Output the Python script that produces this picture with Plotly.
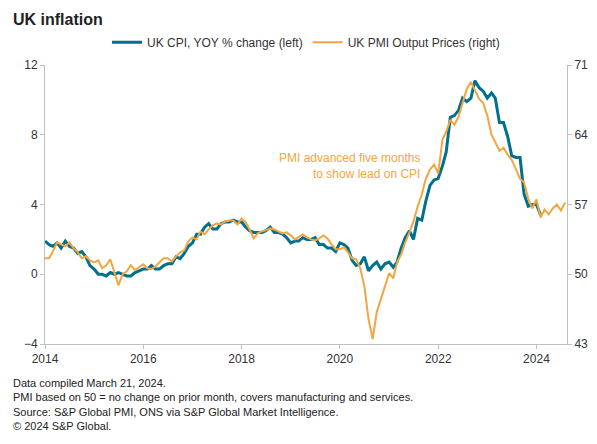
import plotly.graph_objects as go
import pandas as pd

cpi = [1.9,1.7,1.6,1.8,1.5,1.9,1.6,1.5,1.2,1.3,1.0,0.5,
       0.3,0.0,0.0,-0.1,0.1,0.0,0.1,0.0,-0.1,-0.1,0.1,0.2,
       0.3,0.3,0.5,0.3,0.3,0.5,0.6,0.6,1.0,0.9,1.2,1.6,
       1.8,2.3,2.3,2.7,2.9,2.6,2.6,2.9,3.0,3.0,3.1,3.0,
       3.0,2.7,2.5,2.4,2.4,2.4,2.5,2.7,2.4,2.4,2.3,2.1,
       1.8,1.9,1.9,2.1,2.0,2.0,2.1,1.7,1.7,1.5,1.5,1.3,
       1.8,1.7,1.5,0.8,0.5,0.6,1.0,0.2,0.5,0.7,0.3,0.6,
       0.7,0.4,0.7,1.5,2.1,2.5,2.0,3.2,3.1,4.2,5.1,5.4,
       5.5,6.2,7.0,9.0,9.1,9.4,10.1,9.9,10.1,11.1,10.7,10.5,
       10.1,10.4,10.1,8.7,8.7,7.9,6.8,6.7,6.7,4.6,3.9,4.0,
       4.0,3.4]
pmi = [51.6,51.6,52.3,53.2,53.0,52.8,53.2,52.6,52.2,51.6,51.8,51.4,
       51.2,51.4,50.6,50.9,51.5,50.2,48.9,50.0,50.3,50.9,50.4,50.7,
       51.0,50.6,50.5,50.8,51.2,51.6,51.6,51.3,51.8,52.2,52.4,53.3,
       53.7,53.5,54.3,54.0,54.5,54.9,55.1,55.0,55.3,55.4,55.4,55.0,
       55.6,55.2,54.5,53.6,54.1,54.3,54.4,54.6,54.5,54.3,54.1,54.2,
       53.9,53.5,53.7,54.0,53.7,53.5,53.4,53.6,53.9,53.6,53.0,52.5,
       52.5,52.7,52.2,51.6,51.5,50.6,48.8,45.5,43.5,46.2,47.5,48.8,50.1,49.6,
       51.2,52.0,53.2,54.2,55.3,56.8,58.0,59.6,60.5,61.0,60.1,63.5,
       64.3,65.5,65.0,65.8,67.1,68.6,69.3,68.4,67.6,67.2,65.9,64.0,
       63.2,62.4,62.7,62.0,61.5,60.5,59.6,59.2,57.6,56.6,57.5,55.7,
       56.5,56.0,56.6,57.0,56.4,57.2]
cpi_dates = pd.date_range("2014-01-01", periods=len(cpi), freq="MS")
pmi_dates = pd.date_range("2014-01-01", periods=len(pmi), freq="MS")
left_ticks = [-4, 0, 4, 8, 12]
right_ticks = [43, 50, 57, 64, 71]
year_ticks = [2014, 2016, 2018, 2020, 2022, 2024]

teal = "#00708c"
orange = "#f2a540"
fig = go.Figure()
fig.add_trace(go.Scatter(x=cpi_dates, y=cpi, name="UK CPI, YOY % change (left)",
                         line=dict(color=teal, width=3)))
fig.add_trace(go.Scatter(x=pmi_dates, y=pmi, name="UK PMI Output Prices (right)", yaxis="y2",
                         line=dict(color=orange, width=2)))
ax = dict(showgrid=False, zeroline=False, showline=True, linecolor="#bfbfbf",
          ticks="outside", tickcolor="#bfbfbf", ticklen=4,
          tickfont=dict(size=12, color="#333"))
fig.update_layout(
    width=597, height=444, margin=dict(l=37, r=38, t=57, b=108),
    paper_bgcolor="white", plot_bgcolor="white",
    font=dict(family="Liberation Sans, Arial", color="#333"),
    xaxis=dict(ax, tickvals=[f"{y}-01-01" for y in year_ticks], ticktext=[str(y) for y in year_ticks],
               range=["2014-01-01", "2024-08-15"]),
    yaxis=dict(ax, range=[-4, 12], tickvals=left_ticks),
    yaxis2=dict(ax, range=[43, 71], tickvals=right_ticks, overlaying="y", side="right"),
    legend=dict(orientation="h", x=0.5, xanchor="center", y=1.03, yanchor="bottom",
                font=dict(size=12, color="#333"), itemwidth=30),
)
fig.add_annotation(text="<b>UK inflation</b>", xref="paper", yref="paper", x=-0.065, y=1.2,
                   xanchor="left", yanchor="top", showarrow=False, font=dict(size=16, color="#222"))
fig.add_annotation(text="PMI advanced five months<br>to show lead on CPI", x="2021-09-01", y=7.2,
                   xanchor="right", yanchor="top", align="right", showarrow=False,
                   font=dict(size=12, color=orange))
fig.add_annotation(text="Data compiled March 21, 2024.<br>PMI based on 50 = no change on prior month, covers manufacturing and services.<br>Source: S&P Global PMI, ONS via S&P Global Market Intelligence.<br>© 2024 S&P Global.",
                   xref="paper", yref="paper", x=-0.065, y=-0.11, xanchor="left", yanchor="top",
                   align="left", showarrow=False, font=dict(size=11, color="#222"))
fig.write_html("out.html")
